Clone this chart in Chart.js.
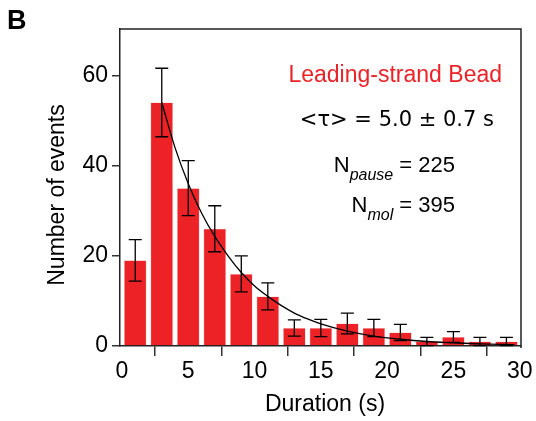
<!DOCTYPE html>
<html>
<head>
<meta charset="utf-8">
<script src="https://cdn.jsdelivr.net/npm/chart.js@4/dist/chart.umd.min.js"></script>
<style>
    html, body { margin: 0; padding: 0; background: #fff; }
</style>
</head>
<body>
<canvas id="myChart" width="536" height="421"></canvas>
<script>
// histogram bins (s), counts and error bars
var binCenters = [1, 3, 5, 7, 9, 11, 13, 15, 17, 19, 21, 23, 25, 27, 29];
var counts = [19, 54, 35, 26, 16, 11, 4, 4, 5, 4, 3, 1, 2, 1, 1];
var errors = [4.6, 7.6, 6.1, 5.1, 4.0, 3.0, 1.8, 1.9, 2.3, 1.9, 1.8, 0.9, 1.2, 0.9, 0.9];

// exponential fit curve
var fitX = [3, 4, 5, 6, 7, 8, 9, 10, 11, 12, 13, 14, 15, 17, 19, 21, 23, 25, 27, 29.6];
var fitY = [54, 44, 36, 29.5, 24.3, 20, 16.3, 13.3, 11, 9, 7.3, 6, 4.9, 3.3, 2.2, 1.5, 1.0, 0.7, 0.45, 0.3];

var xTicks = [0, 5, 10, 15, 20, 25, 30];
var yTicks = [0, 20, 40, 60];

var FONT = "'Liberation Sans', Arial, Helvetica, sans-serif";
var barRed = '#ed2226';

var barData = [];
for (var i = 0; i < binCenters.length; i++) {
    barData.push({ x: binCenters[i], y: counts[i] });
}
var fitData = [];
for (var j = 0; j < fitX.length; j++) {
    fitData.push({ x: fitX[j], y: fitY[j] });
}

var errorBars = {
    id: 'errorBars',
    afterDatasetsDraw: function (chart) {
        var ctx = chart.ctx;
        var xs = chart.scales.x, ys = chart.scales.y;
        ctx.save();
        ctx.strokeStyle = '#000';
        ctx.lineWidth = 1.3;
        for (var i = 0; i < binCenters.length; i++) {
            var px = xs.getPixelForValue(binCenters[i]);
            var top = ys.getPixelForValue(counts[i] + errors[i]);
            var bot = ys.getPixelForValue(Math.max(0, counts[i] - errors[i]));
            ctx.beginPath();
            ctx.moveTo(px, top); ctx.lineTo(px, bot);
            ctx.moveTo(px - 6.5, top); ctx.lineTo(px + 6.5, top);
            ctx.moveTo(px - 6.5, bot); ctx.lineTo(px + 6.5, bot);
            ctx.stroke();
        }
        ctx.restore();
    }
};

var extras = {
    id: 'extras',
    afterDraw: function (chart) {
        var ctx = chart.ctx;
        var a = chart.chartArea;
        ctx.save();
        // top and right frame
        ctx.strokeStyle = '#222';
        ctx.lineWidth = 1.5;
        ctx.beginPath();
        ctx.moveTo(a.left, a.top);
        ctx.lineTo(a.right, a.top);
        ctx.lineTo(a.right, a.bottom + 2);
        ctx.stroke();

        ctx.fillStyle = '#000';
        ctx.textBaseline = 'alphabetic';
        // panel letter
        ctx.font = 'bold 27px ' + FONT;
        ctx.textAlign = 'left';
        ctx.fillText('B', 7, 29);

        // axis titles
        ctx.font = '23px ' + FONT;
        ctx.textAlign = 'center';
        ctx.textBaseline = 'middle';
        ctx.fillText('Duration (s)', 325, 405);
        ctx.save();
        ctx.translate(58, 195);
        ctx.rotate(-Math.PI / 2);
        ctx.fillText('Number of events', 0, 0);
        ctx.restore();

        // annotations
        ctx.textBaseline = 'alphabetic';
        ctx.textAlign = 'right';
        ctx.fillStyle = '#ed2226';
        ctx.font = '23px ' + FONT;
        ctx.fillText('Leading-strand Bead', 502, 82);

        ctx.fillStyle = '#000';
        ctx.font = '21px "DejaVu Sans", Verdana, sans-serif';
        ctx.fillText('<\u03c4> = 5.0 \u00b1 0.7 s', 494, 126);

        drawSub(ctx, 'N', 'pause', ' = 225', 455, 172);
        drawSub(ctx, 'N', 'mol', ' = 395', 455, 212);
        ctx.restore();
    }
};

function drawSub(ctx, main, sub, tail, right, base) {
    ctx.textAlign = 'left';
    ctx.font = '22px ' + FONT;
    var wMain = ctx.measureText(main).width;
    var wTail = ctx.measureText(tail).width;
    ctx.font = 'italic 16px ' + FONT;
    var wSub = ctx.measureText(sub).width;
    var x = right - wMain - wSub - wTail;
    ctx.font = '22px ' + FONT;
    ctx.fillText(main, x, base);
    ctx.font = 'italic 16px ' + FONT;
    ctx.fillText(sub, x + wMain, base + 8);
    ctx.font = '22px ' + FONT;
    ctx.fillText(tail, x + wMain + wSub, base);
}

new Chart("myChart", {
    type: 'bar',
    data: {
        datasets: [{
            type: 'line',
            data: fitData,
            borderColor: '#000',
            borderWidth: 1.3,
            pointRadius: 0,
            cubicInterpolationMode: 'monotone',
            fill: false,
            order: 0
        }, {
            type: 'bar',
            data: barData,
            backgroundColor: barRed,
            borderColor: '#f7b5b5',
            borderWidth: 0.6,
            categoryPercentage: 1.0,
            barPercentage: 0.85,
            order: 1
        }]
    },
    options: {
        responsive: false,
        animation: false,
        devicePixelRatio: 1,
        layout: { padding: { top: 29, right: 15, left: 0, bottom: 0 } },
        plugins: {
            legend: { display: false },
            tooltip: { enabled: false },
            title: { display: false }
        },
        scales: {
            x: {
                type: 'linear',
                min: -0.15,
                max: 30.1,
                offset: false,
                afterBuildTicks: function (sc) {
                    sc.ticks = xTicks.map(function (v) { return { value: v }; });
                },
                afterFit: function (sc) { sc.height = 75; },
                grid: { drawOnChartArea: false, drawTicks: true, tickLength: 10, color: '#333', lineWidth: 1.5 },
                border: { display: true, color: '#222', width: 1.5 },
                ticks: { color: '#000', font: { family: FONT, size: 23 }, padding: 2, maxRotation: 0, autoSkip: false }
            },
            y: {
                min: 0,
                max: 70.3,
                afterBuildTicks: function (sc) {
                    sc.ticks = yTicks.map(function (v) { return { value: v }; });
                },
                afterFit: function (sc) { sc.width = 120; },
                grid: { drawOnChartArea: false, drawTicks: true, tickLength: 8, color: '#333', lineWidth: 1.5 },
                border: { display: true, color: '#222', width: 1.5 },
                ticks: { color: '#000', font: { family: FONT, size: 23 }, padding: 4 }
            }
        }
    },
    plugins: [errorBars, extras]
});
</script>
</body>
</html>
